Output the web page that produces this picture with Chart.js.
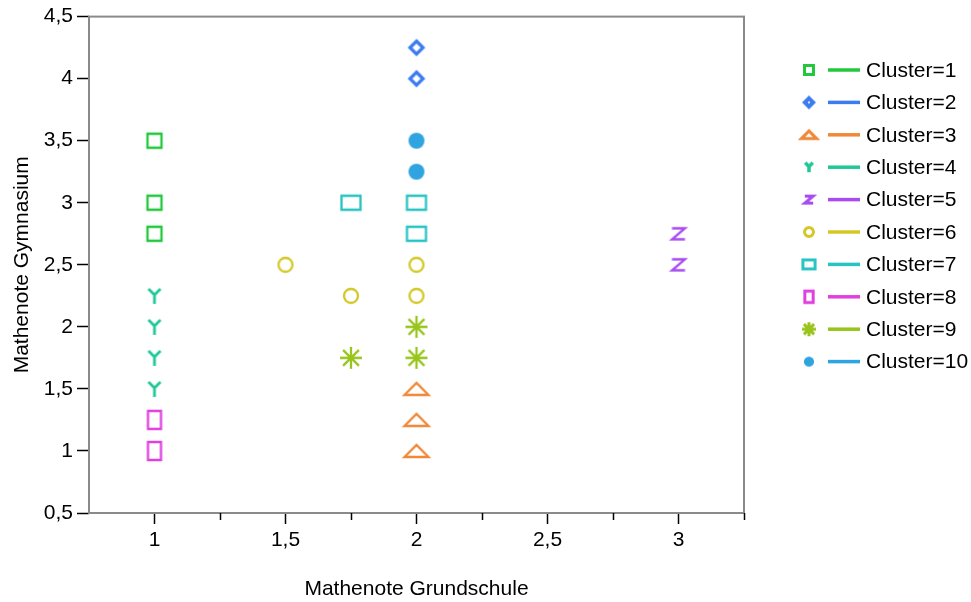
<!DOCTYPE html>
<html>
<head>
<meta charset="utf-8">
<title>Cluster Streudiagramm</title>
<script src="https://cdn.jsdelivr.net/npm/chart.js@4.4.0/dist/chart.umd.min.js"></script>
<style>
  body { margin: 0; background: #fff; }
</style>
</head>
<body>
<canvas id="chart" width="971" height="602"></canvas>
<script>
// data (x = Grundschule, y = Gymnasium)
const clusterNames = ['Cluster=1', 'Cluster=2', 'Cluster=3', 'Cluster=4', 'Cluster=5',
                      'Cluster=6', 'Cluster=7', 'Cluster=8', 'Cluster=9', 'Cluster=10'];

const cluster1X = [1, 1, 1];
const cluster1Y = [3.5, 3, 2.75];
const cluster2X = [2, 2];
const cluster2Y = [4.25, 4];
const cluster3X = [2, 2, 2];
const cluster3Y = [1.5, 1.25, 1];
const cluster4X = [1, 1, 1, 1];
const cluster4Y = [2.25, 2, 1.75, 1.5];
const cluster5X = [3, 3];
const cluster5Y = [2.75, 2.5];
const cluster6X = [1.5, 1.75, 2, 2];
const cluster6Y = [2.5, 2.25, 2.5, 2.25];
const cluster7X = [1.75, 2, 2];
const cluster7Y = [3, 3, 2.75];
const cluster8X = [1, 1];
const cluster8Y = [1.25, 1];
const cluster9X = [1.75, 2, 2];
const cluster9Y = [1.75, 2, 1.75];
const cluster10X = [2, 2];
const cluster10Y = [3.5, 3.25];

const xTicks = [1, 1.5, 2, 2.5, 3];
const xMinorTicks = [1.25, 1.75, 2.25, 2.75, 3.25];
const yTicks = [0.5, 1, 1.5, 2, 2.5, 3, 3.5, 4, 4.5];

const seriesX = [cluster1X, cluster2X, cluster3X, cluster4X, cluster5X,
                 cluster6X, cluster7X, cluster8X, cluster9X, cluster10X];
const seriesY = [cluster1Y, cluster2Y, cluster3Y, cluster4Y, cluster5Y,
                 cluster6Y, cluster7Y, cluster8Y, cluster9Y, cluster10Y];

// styles
const colors = ['#22c83c', '#3c7cf0', '#f08838', '#20c898', '#a84cf0',
                '#d4c828', '#28c4c4', '#e040e0', '#98c41c', '#30a4e0'];
const shapes = ['square', 'diamond', 'triangle', 'y', 'z',
                'circle', 'rect', 'tall', 'star', 'dot'];

Chart.defaults.font.family = '"Liberation Sans", Arial, sans-serif';

// draws one marker symbol into a small canvas, used as pointStyle
function makeMarker(shape, color, k, lw) {
    const size = 34;
    const c = document.createElement('canvas');
    c.width = size;
    c.height = size;
    const g = c.getContext('2d');
    g.translate(size / 2, size / 2);
    g.strokeStyle = color;
    g.fillStyle = color;
    g.lineWidth = lw;
    g.beginPath();
    switch (shape) {
        case 'square':
            g.rect(-7 * k, -7 * k, 14 * k, 14 * k);
            g.stroke();
            break;
        case 'diamond':
            g.lineWidth = lw + 1;
            g.moveTo(0, -6.5 * k); g.lineTo(6.5 * k, 0); g.lineTo(0, 6.5 * k); g.lineTo(-6.5 * k, 0);
            g.closePath();
            g.stroke();
            break;
        case 'triangle':
            g.moveTo(-12 * k, 6 * k); g.lineTo(12 * k, 6 * k); g.lineTo(0, -6 * k);
            g.closePath();
            g.stroke();
            break;
        case 'y':
            g.lineWidth = lw + 0.5;
            g.moveTo(-6 * k, -7 * k); g.lineTo(0, -1 * k); g.lineTo(6 * k, -7 * k);
            g.moveTo(0, -1 * k); g.lineTo(0, 8 * k);
            g.stroke();
            break;
        case 'z':
            g.moveTo(-6.5 * k, -5.5 * k); g.lineTo(6.5 * k, -5.5 * k); g.lineTo(-6.5 * k, 5.5 * k); g.lineTo(6.5 * k, 5.5 * k);
            g.stroke();
            break;
        case 'circle':
            g.arc(0, 0, 7 * k, 0, Math.PI * 2);
            g.stroke();
            break;
        case 'rect':
            g.rect(-9.5 * k, -7 * k, 19 * k, 14 * k);
            g.stroke();
            break;
        case 'tall':
            g.rect(-6.5 * k, -9 * k, 13 * k, 18 * k);
            g.stroke();
            break;
        case 'star':
            const r = 11 * k, d = r * 0.72;
            g.moveTo(-r, 0); g.lineTo(r, 0);
            g.moveTo(0, -r); g.lineTo(0, r);
            g.moveTo(-d, -d); g.lineTo(d, d);
            g.moveTo(-d, d); g.lineTo(d, -d);
            g.stroke();
            break;
        case 'dot':
            g.arc(0, 0, 8 * k, 0, Math.PI * 2);
            g.fill();
            break;
    }
    return c;
}

const plotMarkers = shapes.map((s, i) => makeMarker(s, colors[i], 1, 2.3));
const legendMarkers = shapes.map((s, i) => makeMarker(s, colors[i], 0.64, 3));

const fmt = v => String(v).replace('.', ',');

const datasets = clusterNames.map((name, i) => ({
    label: name,
    data: seriesX[i].map((x, j) => ({ x: x, y: seriesY[i][j] })),
    pointStyle: plotMarkers[i],
    pointRadius: 8,
    borderColor: colors[i],
    backgroundColor: colors[i]
}));

// grey frame round the plot + short minor ticks on x
const framePlugin = {
    id: 'frame',
    beforeDatasetsDraw(chart) {
        const { ctx, chartArea: a, scales } = chart;
        ctx.save();
        ctx.strokeStyle = '#8a8a8a';
        ctx.lineWidth = 2;
        ctx.strokeRect(a.left, a.top, a.right - a.left, a.bottom - a.top);
        ctx.strokeStyle = '#000';
        ctx.lineWidth = 1.5;
        ctx.beginPath();
        xMinorTicks.forEach(v => {
            const px = Math.round(scales.x.getPixelForValue(v)) + 0.5;
            ctx.moveTo(px, a.bottom);
            ctx.lineTo(px, a.bottom + 7);
        });
        ctx.stroke();
        ctx.restore();
    }
};

// legend on the right: symbol, line, text
const legendPlugin = {
    id: 'sideLegend',
    afterDraw(chart) {
        const ctx = chart.ctx;
        const top = 70, gap = 32.4;
        ctx.save();
        ctx.font = '21px "Liberation Sans", Arial, sans-serif';
        ctx.textBaseline = 'middle';
        ctx.fillStyle = '#000';
        clusterNames.forEach((name, i) => {
            const y = top + i * gap;
            const m = legendMarkers[i];
            ctx.drawImage(m, 809 - m.width / 2, y - m.height / 2);
            ctx.strokeStyle = colors[i];
            ctx.lineWidth = 3.5;
            ctx.beginPath();
            ctx.moveTo(828, y);
            ctx.lineTo(860, y);
            ctx.stroke();
            ctx.fillText(name, 866, y + 1);
        });
        ctx.restore();
    }
};

new Chart(document.getElementById('chart'), {
    type: 'scatter',
    data: { datasets: datasets },
    plugins: [framePlugin, legendPlugin],
    options: {
        responsive: false,
        animation: false,
        devicePixelRatio: 1,
        layout: { padding: { top: 14, right: 227, left: 0, bottom: 0 } },
        plugins: {
            legend: { display: false },
            tooltip: { enabled: false }
        },
        scales: {
            x: {
                type: 'linear',
                min: 0.75,
                max: 3.25,
                afterBuildTicks: s => { s.ticks = xTicks.map(v => ({ value: v })); },
                afterFit: s => { s.height = 89; },
                ticks: { callback: v => fmt(v), color: '#000', font: { size: 21 }, padding: 4, maxRotation: 0, autoSkip: false },
                grid: { drawOnChartArea: false, tickLength: 11, tickColor: '#000', tickWidth: 1.5 },
                border: { display: false },
                title: { display: true, text: 'Mathenote Grundschule', color: '#000', font: { size: 21 }, padding: { top: 0, bottom: 0 } }
            },
            y: {
                type: 'linear',
                min: 0.5,
                max: 4.5,
                afterBuildTicks: s => { s.ticks = yTicks.map(v => ({ value: v })); },
                afterFit: s => { s.width = 89; },
                ticks: { callback: v => fmt(v), color: '#000', font: { size: 21 }, padding: 4, autoSkip: false },
                grid: { drawOnChartArea: false, tickLength: 12, tickColor: '#000', tickWidth: 1.5 },
                border: { display: false },
                title: { display: true, text: 'Mathenote Gymnasium', color: '#000', font: { size: 21 }, padding: { top: 10, bottom: 0 } }
            }
        }
    }
});
</script>
</body>
</html>
